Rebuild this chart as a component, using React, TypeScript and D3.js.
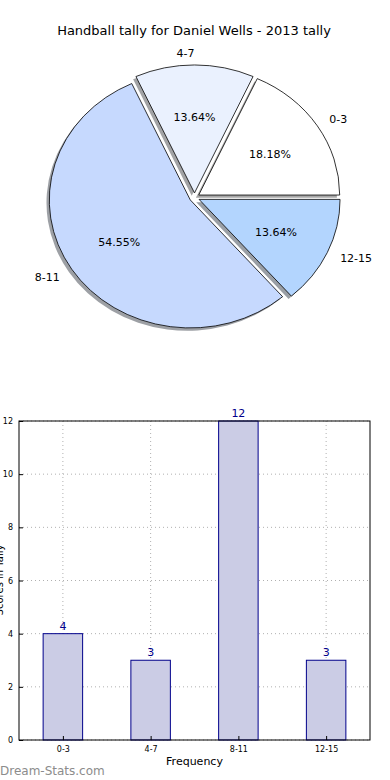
import { useEffect, useRef } from "react";
import * as d3 from "d3";

const ranges = ["0-3", "4-7", "8-11", "12-15"];
const counts = [4, 3, 12, 3];
const sliceColors = ["#ffffff", "#eaf1fe", "#c6d9fe", "#b3d5fe"];
const yTicks = [0, 2, 4, 6, 8, 10, 12];

const FONT = "DejaVu Sans, Verdana, sans-serif";

function App() {
  const svgRef = useRef<SVGSVGElement | null>(null);

  useEffect(() => {
    const svg = d3.select(svgRef.current);
    svg.selectAll("*").remove();

    svg.append("rect").attr("width", 390).attr("height", 780).attr("fill", "#fff");

    // title
    svg.append("text")
      .attr("x", 194)
      .attr("y", 35)
      .attr("text-anchor", "middle")
      .style("font-family", FONT)
      .style("font-size", "13px")
      .text("Handball tally for Daniel Wells - 2013 tally");

    // ---- pie (elliptical, like matplotlib without equal aspect) ----
    const cx = 194.5, cy = 197.5, rx = 141, ry = 128;
    const sy = ry / rx;
    const explode = 5;
    const total = d3.sum(counts);

    const pie = d3.pie<number>()
      .sort(null)
      .value((d) => d)
      .startAngle(Math.PI / 2)
      .endAngle(Math.PI / 2 - 2 * Math.PI);

    const arc = d3.arc<d3.PieArcDatum<number>>().innerRadius(0).outerRadius(rx);
    const arcs = pie(counts);

    const g = svg.append("g").attr("transform", `translate(${cx},${cy}) scale(1,${sy})`);

    const offs = arcs.map((d) => {
      const a = (d.startAngle + d.endAngle) / 2;
      return { a, dx: Math.sin(a) * explode, dy: -Math.cos(a) * explode };
    });

    // shadows first
    arcs.forEach((d, i) => {
      const c = d3.rgb(sliceColors[i]);
      g.append("path")
        .attr("d", arc(d))
        .attr("transform", `translate(${offs[i].dx - 2.8},${offs[i].dy + 2.8 / sy})`)
        .attr("fill", d3.rgb(c.r * 0.3, c.g * 0.3, c.b * 0.3).toString())
        .attr("fill-opacity", 0.5);
    });
    arcs.forEach((d, i) => {
      g.append("path")
        .attr("d", arc(d))
        .attr("transform", `translate(${offs[i].dx},${offs[i].dy})`)
        .attr("fill", sliceColors[i])
        .attr("stroke", "#000")
        .attr("stroke-width", 0.8)
        .attr("vector-effect", "non-scaling-stroke");
    });

    arcs.forEach((d, i) => {
      const { a, dx, dy } = offs[i];
      const ox = cx + dx, oy = cy + dy * sy;
      const pct = ((counts[i] / total) * 100).toFixed(2) + "%";
      svg.append("text")
        .attr("x", ox + Math.sin(a) * rx * 0.6)
        .attr("y", oy - Math.cos(a) * ry * 0.6 + 1)
        .attr("text-anchor", "middle")
        .attr("dominant-baseline", "central")
        .style("font-family", FONT)
        .style("font-size", "11px")
        .text(pct);
      svg.append("text")
        .attr("x", ox + Math.sin(a) * rx * 1.1)
        .attr("y", oy - Math.cos(a) * ry * 1.1 + 1)
        .attr("text-anchor", Math.sin(a) > 0.01 ? "start" : "end")
        .attr("dominant-baseline", "central")
        .style("font-family", FONT)
        .style("font-size", "11px")
        .text(ranges[i]);
    });

    // ---- bar chart ----
    const left = 19, right = 370, top = 421, bottom = 740;
    const x = d3.scaleLinear().domain([-0.5, ranges.length - 0.5]).range([left, right]);
    const y = d3.scaleLinear().domain([0, 12]).range([bottom, top]);
    const bw = x(0.45) - x(0);

    const grid = svg.append("g")
      .attr("stroke", "#b0b0b0")
      .attr("stroke-width", 1)
      .attr("stroke-dasharray", "1,3");
    yTicks.forEach((t) => {
      grid.append("line").attr("x1", left).attr("x2", right).attr("y1", y(t)).attr("y2", y(t));
    });

    svg.append("g").selectAll("rect")
      .data(counts)
      .enter()
      .append("rect")
      .attr("x", (_, i) => x(i) - bw / 2)
      .attr("y", (d) => y(d))
      .attr("width", bw)
      .attr("height", (d) => bottom - y(d))
      .attr("fill", "#cbcce5")
      .attr("stroke", "#00008b")
      .attr("stroke-width", 1);

    ranges.forEach((_, i) => {
      grid.append("line").attr("x1", x(i)).attr("x2", x(i)).attr("y1", top).attr("y2", bottom);
    });

    // value labels above the bars
    svg.append("g").selectAll("text")
      .data(counts)
      .enter()
      .append("text")
      .attr("x", (_, i) => x(i))
      .attr("y", (d) => y(d) - 4)
      .attr("text-anchor", "middle")
      .attr("fill", "#00008b")
      .style("font-family", FONT)
      .style("font-size", "11px")
      .text((d) => d);

    svg.append("rect")
      .attr("x", left).attr("y", top)
      .attr("width", right - left).attr("height", bottom - top)
      .attr("fill", "none").attr("stroke", "#000").attr("stroke-width", 1);

    const yAxis = svg.append("g")
      .attr("transform", `translate(${left},0)`)
      .call(d3.axisLeft(y).tickValues(yTicks).tickSize(-4).tickPadding(6).tickFormat(d3.format("d")));
    yAxis.select(".domain").remove();
    yAxis.selectAll("text").style("font-family", FONT).style("font-size", "8px");

    const xAxis = svg.append("g")
      .attr("transform", `translate(0,${bottom})`)
      .call(d3.axisBottom(x).tickValues(d3.range(ranges.length)).tickSize(-4).tickPadding(6)
        .tickFormat((d) => ranges[d as number]));
    xAxis.select(".domain").remove();
    xAxis.selectAll("text").style("font-family", FONT).style("font-size", "8px");

    svg.append("text")
      .attr("x", 194.5)
      .attr("y", 765)
      .attr("text-anchor", "middle")
      .style("font-family", FONT)
      .style("font-size", "11px")
      .text("Frequency");

    // y label sits mostly off the left edge, as in the reference
    svg.append("text")
      .attr("transform", "translate(3,580) rotate(-90)")
      .attr("text-anchor", "middle")
      .style("font-family", FONT)
      .style("font-size", "10px")
      .text("Scores in Tally");

    svg.append("text")
      .attr("x", 0)
      .attr("y", 775)
      .attr("fill", "#8c8c8c")
      .style("font-family", FONT)
      .style("font-size", "12px")
      .text("Dream-Stats.com");
  }, []);

  return (
    <svg
      ref={svgRef}
      width={390}
      height={780}
      style={{ position: "absolute", left: 0, top: 0 }}
    ></svg>
  );
}

export default App;
